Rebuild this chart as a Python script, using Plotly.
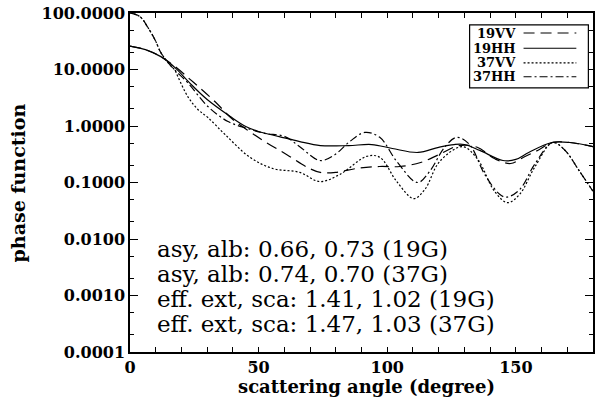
import plotly.graph_objects as go

# ---- data ----
ang_19vv = [0, 6, 12, 17.5, 23, 27, 33, 40, 47, 53, 61, 69, 74, 80, 88, 97, 105, 113, 120, 128, 135, 142, 148, 153, 159, 164, 171, 180]
val_19vv = [26, 22.5, 16.9, 11.3, 6.9, 4.8, 2.71, 1.30, 0.77, 0.51, 0.31, 0.185, 0.151, 0.151, 0.177, 0.192, 0.192, 0.226, 0.31, 0.45, 0.42, 0.26, 0.217, 0.28, 0.38, 0.51, 0.51, 0.43]

ang_19hh = [0, 6, 12, 17.5, 23, 30, 39, 45, 50, 58, 66, 74, 85, 94, 102, 112, 120, 126, 130, 136, 145, 150, 155, 164, 171, 180]
val_19hh = [26, 22.5, 16.9, 10.8, 5.9, 2.94, 1.47, 0.98, 0.80, 0.65, 0.53, 0.45, 0.45, 0.47, 0.40, 0.34, 0.42, 0.47, 0.47, 0.37, 0.245, 0.256, 0.34, 0.51, 0.51, 0.43]

ang_37vv = [0, 3.9, 7.0, 9.7, 12.0, 14.8, 17.5, 18.6, 22.5, 26.4, 30.3, 36.9, 46.6, 55.5, 66, 73.8, 81.6, 92, 97.1, 103.7, 110.3, 114.6, 120.4, 129.3, 135.1, 141.7, 146.8, 151.5, 157.3, 164.3, 168.9, 174.8, 180]
val_37vv = [101, 86, 55, 33.7, 19.9, 13.2, 9.6, 7.5, 3.3, 1.96, 1.41, 0.71, 0.28, 0.177, 0.151, 0.104, 0.139, 0.29, 0.28, 0.104, 0.052, 0.075, 0.236, 0.43, 0.26, 0.070, 0.044, 0.062, 0.185, 0.51, 0.38, 0.157, 0.070]

ang_37hh = [0, 3.9, 7.0, 9.7, 12.0, 14.8, 17.5, 22.5, 30.3, 38.1, 45.8, 52.4, 60.2, 66, 73.8, 79.6, 85.4, 91.3, 97.1, 103.7, 111.8, 116.5, 122.3, 127, 132, 137.9, 143.7, 146.4, 151.5, 157.3, 164.3, 168.9, 174.8, 180]
val_37hh = [101, 86, 55, 33.7, 19.9, 13.2, 9.7, 5.8, 2.21, 1.20, 0.90, 0.74, 0.65, 0.43, 0.245, 0.31, 0.53, 0.77, 0.63, 0.236, 0.100, 0.157, 0.42, 0.63, 0.47, 0.139, 0.062, 0.055, 0.075, 0.209, 0.51, 0.38, 0.157, 0.070]

series_names = ["19VV", "19HH", "37VV", "37HH"]
series_x = [ang_19vv, ang_19hh, ang_37vv, ang_37hh]
series_y = [val_19vv, val_19hh, val_37vv, val_37hh]
series_dash = ["11px,6px", "solid", "2px,2px", "8px,3px,2px,3px"]

y_tickvals = [1e-4, 1e-3, 1e-2, 1e-1, 1, 10, 100]
y_ticktext = ["0.0001", "0.0010", "0.0100", "0.1000", "1.0000", "10.0000", "100.0000"]
x_tickvals = list(range(0, 181, 10))
x_ticktext = [str(v) if v % 50 == 0 else "" for v in x_tickvals]

notes = ["asy, alb: 0.66, 0.73 (19G)",
         "asy, alb: 0.74, 0.70 (37G)",
         "eff. ext, sca: 1.41, 1.02 (19G)",
         "eff. ext, sca: 1.47, 1.03 (37G)"]

FONT = "DejaVu Serif"

fig = go.Figure()
for name, xs, ys, dash in zip(series_names, series_x, series_y, series_dash):
    fig.add_trace(go.Scatter(x=xs, y=ys, mode="lines", name=name,
                             line=dict(color="black", width=1.2, dash=dash, shape="spline", smoothing=1.0),
                             showlegend=False))

fig.update_layout(
    width=597, height=401,
    margin=dict(l=130, r=4, t=13, b=49),
    paper_bgcolor="white", plot_bgcolor="white",
    font=dict(family=FONT, color="black"),
)
fig.update_xaxes(range=[0, 180], tickvals=x_tickvals, ticktext=x_ticktext, automargin=False,
                 ticks="inside", ticklen=5, tickcolor="black", tickwidth=1,
                 showline=True, linecolor="black", linewidth=1.5, mirror="ticks",
                 showgrid=False, zeroline=False, ticklabeloverflow="allow",
                 tickfont=dict(family=FONT, size=16, color="black", weight="bold"))
fig.update_yaxes(type="log", range=[-4, 2], tickvals=y_tickvals, ticktext=y_ticktext, automargin=False,
                 ticks="inside", ticklen=8, tickcolor="black", tickwidth=1,
                 minor=dict(ticks="inside", ticklen=4, tickcolor="black", tickwidth=1, showgrid=False),
                 showline=True, linecolor="black", linewidth=1.5, mirror="ticks",
                 showgrid=False, zeroline=False, ticklabeloverflow="allow",
                 tickfont=dict(family=FONT, size=16, color="black", weight="bold"))

# axis titles
fig.add_annotation(text="scattering angle (degree)", xref="paper", yref="paper",
                   x=0.51, y=-0.101, xanchor="center", yanchor="middle", showarrow=False,
                   font=dict(family=FONT, size=18, color="black", weight="bold"))
fig.add_annotation(text="phase function", xref="paper", yref="paper",
                   x=-0.242, y=0.5, xanchor="center", yanchor="middle", textangle=-90,
                   showarrow=False, font=dict(family=FONT, size=19, color="black", weight="bold"))

# statistics text
note_y = [0.304, 0.230, 0.156, 0.083]
for t, yy in zip(notes, note_y):
    fig.add_annotation(text=t, xref="paper", yref="paper", x=0.054, y=yy,
                       xanchor="left", yanchor="middle", showarrow=False,
                       font=dict(family=FONT, size=23, color="black"))

# legend box (drawn like the original: label then line sample)
fig.add_shape(type="rect", xref="paper", yref="paper", x0=0.7335, x1=0.990, y0=0.779, y1=0.965,
              line=dict(color="black", width=1.2), fillcolor="white", layer="above")
leg_y = [0.941, 0.896, 0.853, 0.812]
for name, dash, yy in zip(series_names, series_dash, leg_y):
    fig.add_annotation(text=name, xref="paper", yref="paper", x=0.837, y=yy,
                       xanchor="right", yanchor="middle", showarrow=False,
                       font=dict(family=FONT, size=13, color="black", weight="bold"))
    fig.add_shape(type="line", xref="paper", yref="paper", x0=0.850, x1=0.964, y0=yy, y1=yy,
                  line=dict(color="black", width=1.2, dash=dash), layer="above")

# remove the page's default 8px body margin so the 597x401 figure fills the window exactly
fig.write_html("out.html", config={"displayModeBar": False},
               post_script="document.body.style.margin='0';document.body.style.overflow='hidden';")
